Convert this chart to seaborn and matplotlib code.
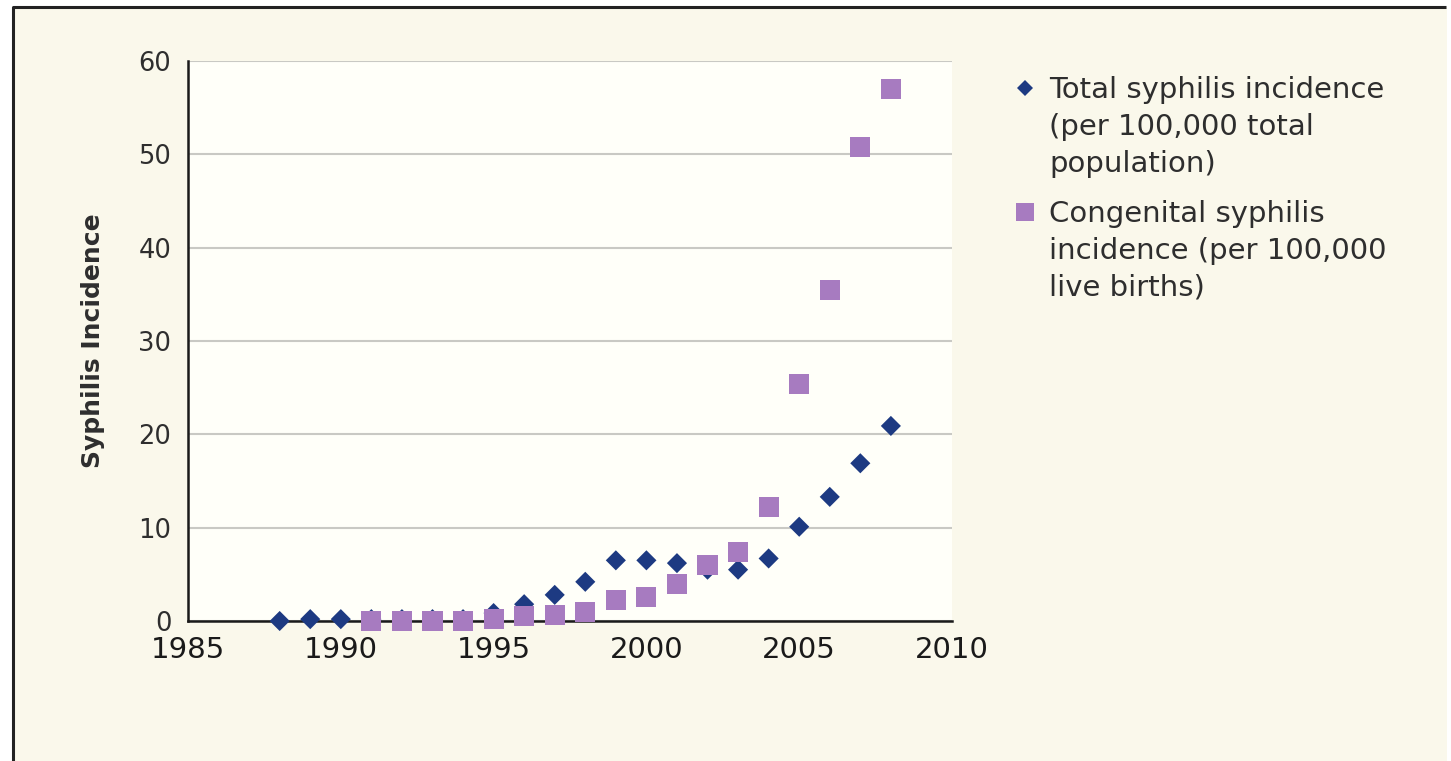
import matplotlib
matplotlib.use("Agg")
import matplotlib.pyplot as plt
import seaborn as sns
import pandas as pd
from matplotlib.patches import Rectangle
from matplotlib.lines import Line2D

# ---- data ----
total_years = [1988, 1989, 1990, 1991, 1992, 1993, 1994, 1995, 1996, 1997, 1998,
               1999, 2000, 2001, 2002, 2003, 2004, 2005, 2006, 2007, 2008]
total_values = [0.0, 0.2, 0.2, 0.2, 0.2, 0.2, 0.2, 0.85, 1.8, 2.8, 4.2,
                6.5, 6.5, 6.2, 5.5, 5.5, 6.7, 10.1, 13.3, 16.9, 20.9]
cong_years = [1991, 1992, 1993, 1994, 1995, 1996, 1997, 1998, 1999, 2000,
              2001, 2002, 2003, 2004, 2005, 2006, 2007, 2008]
cong_values = [0.0, 0.0, 0.0, 0.0, 0.2, 0.5, 0.6, 1.0, 2.25, 2.6,
               4.0, 6.0, 7.4, 12.2, 25.4, 35.5, 50.8, 57.0]
series_names = ["Total syphilis incidence\n(per 100,000 total\npopulation)",
                "Congenital syphilis\nincidence (per 100,000\nlive births)"]
x_ticks = [1985, 1990, 1995, 2000, 2005, 2010]
y_ticks = [0, 10, 20, 30, 40, 50, 60]
y_label = "Syphilis Incidence"

df = pd.concat([
    pd.DataFrame({"year": total_years, "value": total_values, "series": series_names[0]}),
    pd.DataFrame({"year": cong_years, "value": cong_values, "series": series_names[1]}),
], ignore_index=True)

navy = "#1D3A82"
lilac = "#A77BC0"
cream = "#FAF8EB"
txt = "#2e2e2e"

sns.set_theme(style="white")
plt.rcParams["font.family"] = ["DejaVu Sans"]

W, H = 1451, 761
fig = plt.figure(figsize=(W / 100, H / 100), dpi=100)
fig.patch.set_facecolor("white")
fig.add_artist(Rectangle((13 / W, 0), (1447 - 13) / W, 1 - 7 / H,
                         transform=fig.transFigure, facecolor=cream,
                         edgecolor="none", zorder=-10))
fig.add_artist(Line2D([13 / W, 13 / W], [0, 1 - 7 / H], transform=fig.transFigure,
                      color="#222222", lw=2.2, zorder=-5))
fig.add_artist(Line2D([13 / W, 1446 / W], [1 - 7 / H, 1 - 7 / H], transform=fig.transFigure,
                      color="#222222", lw=2.2, zorder=-5, solid_capstyle="butt"))

ax = fig.add_axes([188 / W, 1 - 621 / H, (952 - 188) / W, (621 - 61) / H])
ax.set_facecolor("#FFFFF9")

sub_t = df[df["series"] == series_names[0]]
sub_c = df[df["series"] == series_names[1]]
sns.scatterplot(data=sub_t, x="year", y="value", marker="D", s=105, color=navy,
                edgecolor="none", ax=ax, clip_on=False, zorder=3, legend=False)
sns.scatterplot(data=sub_c, x="year", y="value", marker="s", s=210, color=lilac,
                edgecolor="none", ax=ax, clip_on=False, zorder=4, legend=False)

ax.set_xlim(1985, 2010)
ax.set_ylim(0, 60)
ax.set_xticks(x_ticks)
ax.set_yticks(y_ticks)
ax.yaxis.grid(True, color="#C9C9C4", lw=1.5)
ax.set_axisbelow(True)
for s in ["top", "right"]:
    ax.spines[s].set_visible(False)
for s in ["left", "bottom"]:
    ax.spines[s].set_color("#1a1a1a")
    ax.spines[s].set_linewidth(1.8)
ax.tick_params(axis="both", direction="out", length=11, width=1.8, color="#1a1a1a",
               labelcolor=txt, pad=1)
ax.tick_params(axis="y", labelsize=18.5)
ax.tick_params(axis="x", labelsize=21, pad=0, labelcolor="#1a1a1a")
ax.set_xlabel("")
ax.set_ylabel(y_label, fontsize=18, fontweight="bold", color=txt, labelpad=24)

handles = [
    Line2D([], [], marker="D", linestyle="none", markersize=8, color=navy, markeredgewidth=0),
    Line2D([], [], marker="s", linestyle="none", markersize=13, color=lilac, markeredgewidth=0),
]
leg = ax.legend(handles, series_names, loc="upper left",
                bbox_to_anchor=(1014 / W, 1 - 76 / H), bbox_transform=fig.transFigure,
                frameon=False, fontsize=21, handlelength=0.75, handletextpad=0.45,
                labelspacing=0.78, borderpad=0, borderaxespad=0, handleheight=1.1)
for t in leg.get_texts():
    t.set_color(txt)
    t.set_linespacing(1.4)
for col in leg._legend_handle_box.get_children():
    for item in col.get_children():
        item.align = "top"

fig.savefig("out.png", dpi=100, facecolor=fig.get_facecolor())
